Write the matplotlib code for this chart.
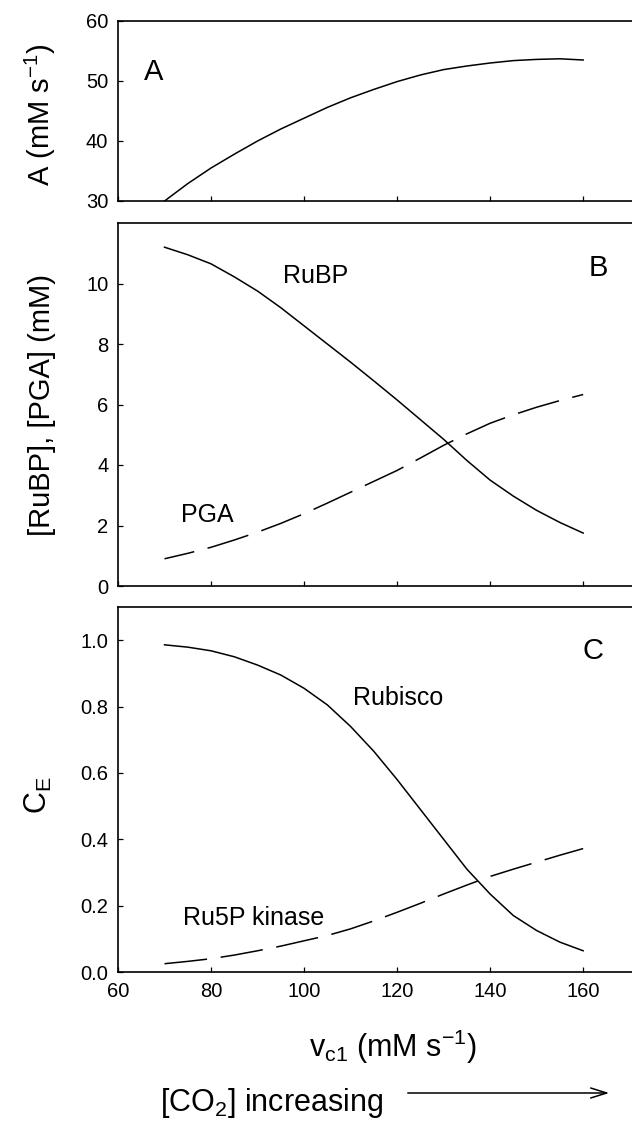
import matplotlib
matplotlib.use("Agg")
import matplotlib.pyplot as plt

plt.rcParams['font.family'] = ['Liberation Sans', 'DejaVu Sans']
plt.rcParams['mathtext.fontset'] = 'custom'
plt.rcParams['mathtext.rm'] = 'Liberation Sans'
plt.rcParams['mathtext.it'] = 'Liberation Sans:italic'
plt.rcParams['mathtext.default'] = 'regular'

# v_c1 values (mM s-1), read every 5 units
vc1 = [70, 75, 80, 85, 90, 95, 100, 105, 110, 115, 120, 125, 130, 135, 140, 145, 150, 155, 160]

# panel A: assimilation rate
assim = [30.0, 32.9, 35.5, 37.8, 40.0, 42.0, 43.8, 45.6, 47.2, 48.6, 49.9, 51.0, 51.9,
         52.5, 53.0, 53.4, 53.6, 53.7, 53.5]

# panel B: metabolite pools (mM)
rubp = [11.2, 10.95, 10.65, 10.22, 9.75, 9.2, 8.6, 8.0, 7.4, 6.78, 6.15, 5.5, 4.85,
        4.15, 3.5, 2.97, 2.5, 2.1, 1.75]
pga = [0.9, 1.08, 1.28, 1.52, 1.78, 2.07, 2.39, 2.74, 3.1, 3.46, 3.82, 4.23, 4.65,
       5.03, 5.38, 5.66, 5.91, 6.13, 6.33]

# panel C: control coefficients
rubisco = [0.986, 0.979, 0.968, 0.95, 0.925, 0.895, 0.855, 0.805, 0.74, 0.665, 0.58,
           0.49, 0.40, 0.31, 0.235, 0.17, 0.125, 0.09, 0.064]
ru5p_kinase = [0.025, 0.032, 0.04, 0.051, 0.064, 0.078, 0.094, 0.11, 0.13, 0.154, 0.18,
               0.207, 0.235, 0.262, 0.288, 0.31, 0.331, 0.352, 0.372]

W, H = 632, 1121
fig = plt.figure(figsize=(W / 100, H / 100), dpi=100)

def axes_px(top, bottom, left=118, right=632):
    return fig.add_axes([left / W, 1 - bottom / H, (right - left) / W, (bottom - top) / H])

ax_a = axes_px(21, 201)
ax_b = axes_px(223, 586)
ax_c = axes_px(607, 972)

lw = 1.1

for ax in (ax_a, ax_b, ax_c):
    ax.set_xlim(60, 170.5)
    ax.set_xticks([60, 80, 100, 120, 140, 160])
    ax.spines['right'].set_visible(False)
    for s in ('left', 'top', 'bottom'):
        ax.spines[s].set_linewidth(1.2)
    ax.tick_params(direction='in', length=3.8, width=0.9, labelsize=14.5, pad=7,
                   right=False, top=False)

ax_a.tick_params(labelbottom=False)
ax_b.tick_params(labelbottom=False)

# A
ax_a.plot(vc1, assim, color='black', lw=lw)
ax_a.set_ylim(30, 60)
ax_a.set_yticks([30, 40, 50, 60])
ax_a.text(67.7, 51.5, 'A', fontsize=21, ha='center', va='center')
ax_a.set_ylabel(r'A (mM s$^{-1}$)', fontsize=21, va='center')
ax_a.yaxis.set_label_coords(-0.150, 0.48)

# B
ax_b.plot(vc1, rubp, color='black', lw=lw)
ax_b.plot(vc1, pga, color='black', lw=lw, ls=(8, (28, 9)))
ax_b.set_ylim(0, 12)
ax_b.set_yticks([0, 2, 4, 6, 8, 10])
ax_b.text(163.2, 10.5, 'B', fontsize=21, ha='center', va='center')
ax_b.text(102.5, 10.26, 'RuBP', fontsize=18, ha='center', va='center')
ax_b.text(79.1, 2.36, 'PGA', fontsize=18, ha='center', va='center')
ax_b.set_ylabel('[RuBP], [PGA] (mM)', fontsize=21, va='center')
ax_b.yaxis.set_label_coords(-0.148, 0.5)

# C
ax_c.plot(vc1, rubisco, color='black', lw=lw)
ax_c.plot(vc1, ru5p_kinase, color='black', lw=lw, ls=(0, (28, 9)))
ax_c.set_ylim(0, 1.1)
ax_c.set_yticks([0.0, 0.2, 0.4, 0.6, 0.8, 1.0])
ax_c.text(162.2, 0.967, 'C', fontsize=21, ha='center', va='center')
ax_c.text(120.2, 0.826, 'Rubisco', fontsize=18, ha='center', va='center')
ax_c.text(89.2, 0.163, 'Ru5P kinase', fontsize=18, ha='center', va='center')
ax_c.set_ylabel(r'$C_E$', fontsize=22, va='center')
ax_c.yaxis.set_label_coords(-0.154, 0.485)
ax_c.set_xlabel(r'v$_{c1}$ (mM s$^{-1}$)', fontsize=22, va='baseline')
ax_c.xaxis.set_label_coords((393 - 118) / 514, (972 - 1057) / 365)

fig.text(160 / W, 1 - 1111 / H, r'[CO$_2$] increasing', fontsize=22,
         ha='left', va='baseline')
fig.add_artist(matplotlib.patches.FancyArrowPatch(
    (405 / W, 1 - 1093 / H), (612 / W, 1 - 1093 / H), transform=fig.transFigure,
    arrowstyle='->,head_length=1.15,head_width=0.36', mutation_scale=10,
    color='black', lw=1.1))

fig.savefig('out.png', dpi=100)
